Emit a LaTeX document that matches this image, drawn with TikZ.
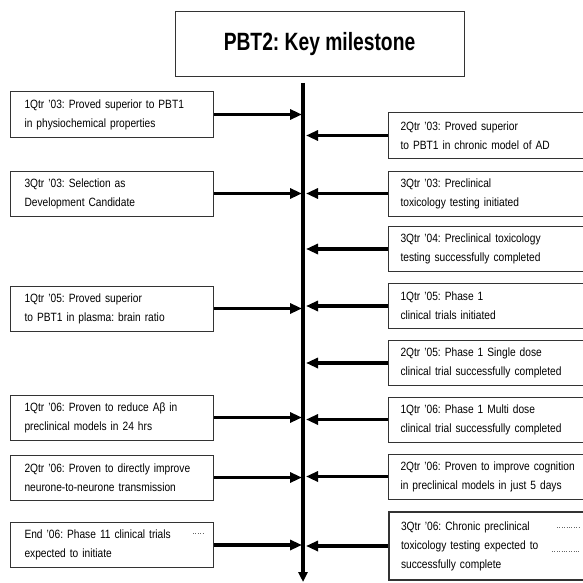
\documentclass[tikz,border=0pt]{standalone}
\usepackage{fontspec}
\setmainfont{Liberation Sans}[FakeStretch=0.85]
\newfontfamily\headfont{Liberation Sans}[FakeStretch=0.77]
\usetikzlibrary{arrows.meta}

\begin{document}
\frenchspacing
\begin{tikzpicture}[x=1pt, y=-1pt,
    every node/.style={font=\fontsize{12}{19}\selectfont},
    leftbox/.style={draw=black!80, line width=1pt, anchor=west, align=left,
        text width=175pt, inner xsep=14pt, minimum height=45pt},
    rightbox/.style={leftbox, text width=200pt, inner xsep=12pt},
    link/.style={line width=3.3pt, -{Triangle[length=12pt,width=10pt]}}]
    \useasboundingbox (0,0) rectangle (583,583);

    \node[draw=black!80, line width=1pt, minimum width=289pt, minimum height=65pt,
        font=\headfont\fontsize{25}{28}\bfseries\selectfont] (title) at (319.5,44.5) {PBT2: Key milestone};

    % time line
    \coordinate (top) at (303,83);
    \coordinate (bottom) at (303,582);
    \draw[line width=4pt, -{Triangle[length=10pt,width=9pt]}] (top) -- (bottom);

    % left column
    \node[leftbox] (l1) at (10,114.5) {1Qtr '03: Proved superior to PBT1\\in physiochemical properties};
    \node[leftbox] (l2) at (10,193.5) {3Qtr '03: Selection as\\Development Candidate};
    \node[leftbox] (l3) at (10,308.5) {1Qtr '05: Proved superior\\to PBT1 in plasma: brain ratio};
    \node[leftbox] (l4) at (10,417.5) {1Qtr '06: Proven to reduce Aβ in\\preclinical models in 24 hrs};
    \node[leftbox] (l5) at (10,477.5) {2Qtr '06: Proven to directly improve\\neurone-to-neurone transmission};
    \node[leftbox] (l6) at (10,545) {End '06: Phase 11 clinical trials\\expected to initiate};

    % right column
    \node[rightbox] (r1) at (388,135.5) {2Qtr '03: Proved superior\\to PBT1 in chronic model of AD};
    \node[rightbox] (r2) at (388,193.5) {3Qtr '03: Preclinical\\toxicology testing initiated};
    \node[rightbox] (r3) at (388,249) {3Qtr '04: Preclinical toxicology\\testing successfully completed};
    \node[rightbox] (r4) at (388,306) {1Qtr '05: Phase 1\\clinical trials initiated};
    \node[rightbox] (r5) at (388,363) {2Qtr '05: Phase 1 Single dose\\clinical trial successfully completed};
    \node[rightbox] (r6) at (388,419.5) {1Qtr '06: Phase 1 Multi dose\\clinical trial successfully completed};
    \node[rightbox] (r7) at (388,476.5) {2Qtr '06: Proven to improve cognition\\in preclinical models in just 5 days};
    \node[rightbox, line width=2pt, minimum height=68pt] (r8) at (388,546)
        {3Qtr '06: Chronic preclinical\\toxicology testing expected to\\successfully complete};

    \foreach \n in {l1,l2,l3,l4,l5,l6}
        \draw[link, shorten >=1pt] (\n.east) -- (\n.east -| top);
    \foreach \n in {r1,r2,r3,r4,r5,r6,r7,r8}
        \draw[link, shorten >=3pt] (\n.west) -- (\n.west -| top);

    % stray dots
    \draw[black!60, dotted] (193,533) -- (204,533);
    \draw[black!60, dotted] (557,527) -- (580,527);
    \draw[black!60, dotted] (552,551) -- (580,551);
\end{tikzpicture}
\end{document}
